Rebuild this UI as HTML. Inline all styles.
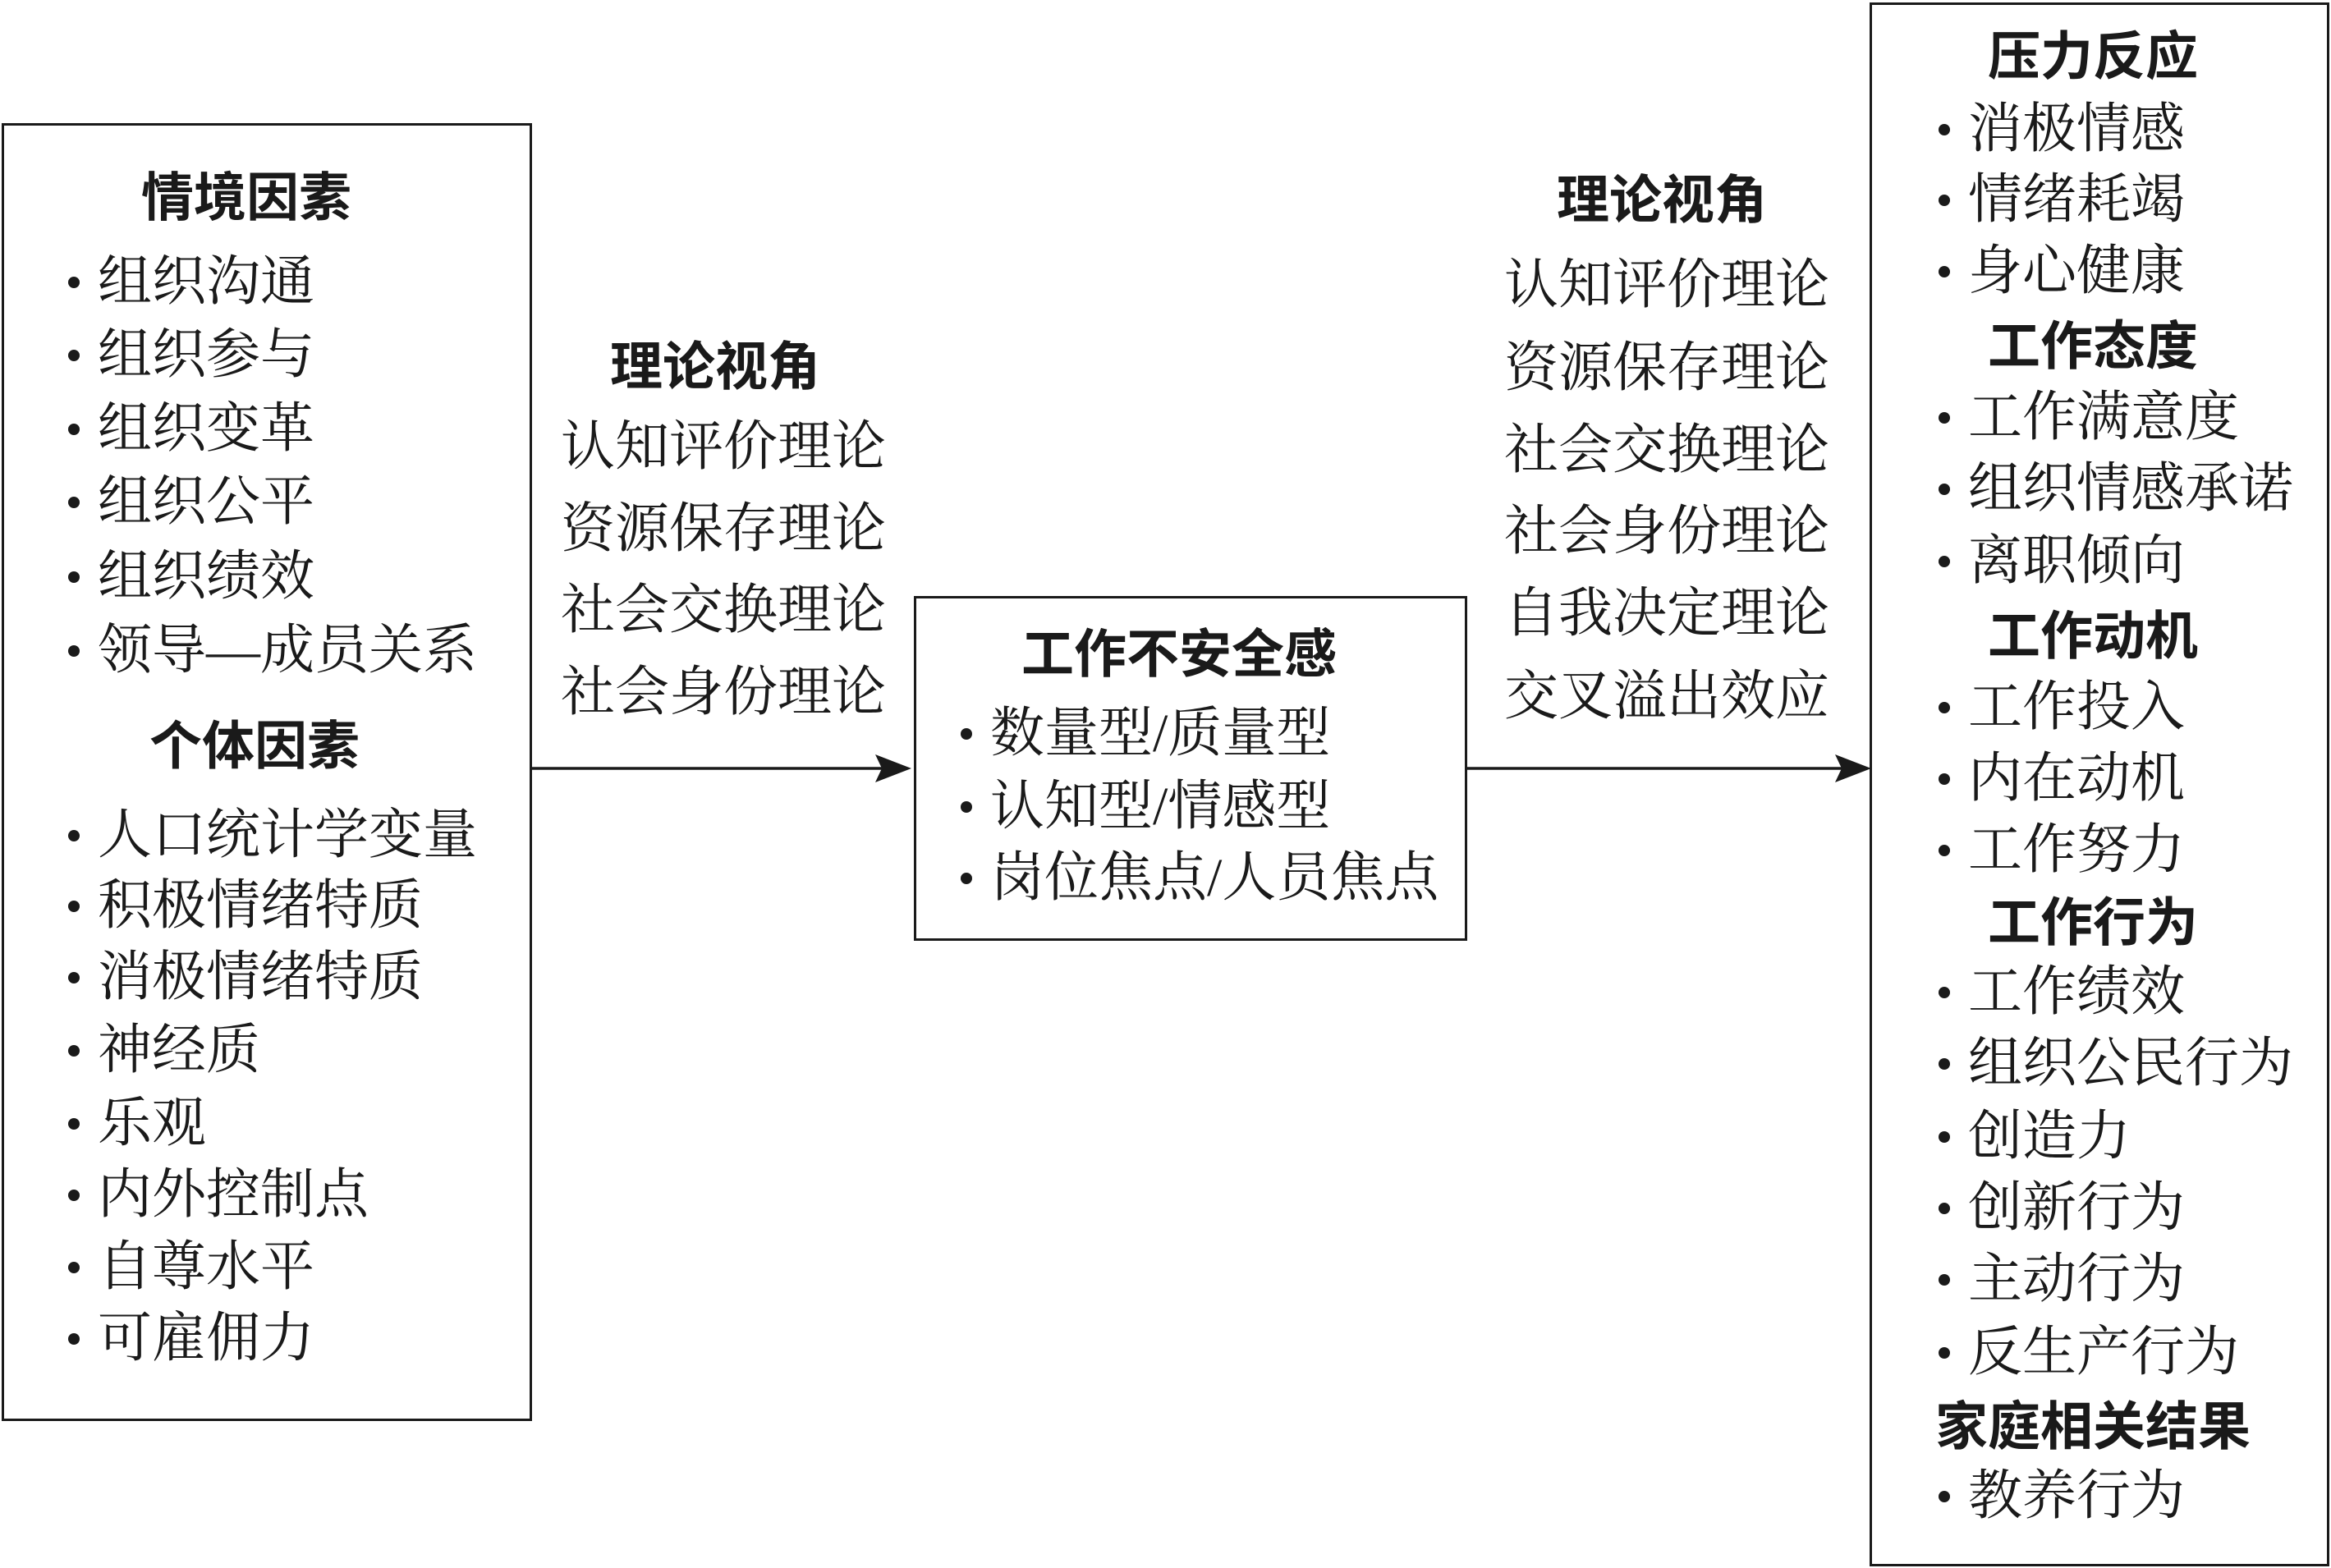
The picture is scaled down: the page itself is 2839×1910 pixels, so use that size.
<!DOCTYPE html>
<html><head><meta charset="utf-8"><style>
body{margin:0;background:#fff;}
#c{position:relative;width:2839px;height:1910px;overflow:hidden;background:#fff;}
.t{position:absolute;font-family:"Liberation Serif","Noto Serif CJK SC",serif;font-size:66px;line-height:72px;color:#1a1a1a;white-space:nowrap;transform:translateY(-50%);}
.h{position:absolute;font-family:"Liberation Sans","Noto Sans CJK SC",sans-serif;font-weight:bold;font-size:64px;line-height:72px;color:#1a1a1a;white-space:nowrap;transform:translate(-50%,-50%);}
.b{position:absolute;width:14px;height:14px;border-radius:50%;background:#1a1a1a;transform:translate(-50%,-50%);}
.box{position:absolute;border:3.5px solid #1a1a1a;box-sizing:border-box;}
</style></head><body><div id="c">
<div class="box" style="left:2px;top:150px;width:646px;height:1581px"></div>
<div class="box" style="left:1113px;top:726px;width:674px;height:420px"></div>
<div class="box" style="left:2277px;top:3px;width:560px;height:1905px"></div>
<svg style="position:absolute;left:0;top:0" width="2839" height="1910">
<line x1="646" y1="936" x2="1075" y2="936" stroke="#1a1a1a" stroke-width="3.5"/>
<polygon points="1110,936 1066,919 1074,936 1066,953" fill="#1a1a1a"/>
<line x1="1785" y1="936" x2="2245" y2="936" stroke="#1a1a1a" stroke-width="3.5"/>
<polygon points="2279,936 2235,919 2243,936 2235,953" fill="#1a1a1a"/>
</svg>

<div class="h" style="left:300px;top:241px">情境因素</div>
<div class="b" style="left:90px;top:344px"></div><div class="t" style="left:119px;top:344px">组织沟通</div>
<div class="b" style="left:90px;top:433px"></div><div class="t" style="left:119px;top:433px">组织参与</div>
<div class="b" style="left:90px;top:523px"></div><div class="t" style="left:119px;top:523px">组织变革</div>
<div class="b" style="left:90px;top:612px"></div><div class="t" style="left:119px;top:612px">组织公平</div>
<div class="b" style="left:90px;top:703px"></div><div class="t" style="left:119px;top:703px">组织绩效</div>
<div class="b" style="left:90px;top:793px"></div><div class="t" style="left:119px;top:793px">领导—成员关系</div>
<div class="h" style="left:310px;top:909px">个体因素</div>
<div class="b" style="left:90px;top:1018px"></div><div class="t" style="left:119px;top:1018px">人口统计学变量</div>
<div class="b" style="left:90px;top:1104px"></div><div class="t" style="left:119px;top:1104px">积极情绪特质</div>
<div class="b" style="left:90px;top:1191px"></div><div class="t" style="left:119px;top:1191px">消极情绪特质</div>
<div class="b" style="left:90px;top:1280px"></div><div class="t" style="left:119px;top:1280px">神经质</div>
<div class="b" style="left:90px;top:1369px"></div><div class="t" style="left:119px;top:1369px">乐观</div>
<div class="b" style="left:90px;top:1456px"></div><div class="t" style="left:119px;top:1456px">内外控制点</div>
<div class="b" style="left:90px;top:1544px"></div><div class="t" style="left:119px;top:1544px">自尊水平</div>
<div class="b" style="left:90px;top:1631px"></div><div class="t" style="left:119px;top:1631px">可雇佣力</div>

<div class="h" style="left:871px;top:447px">理论视角</div>
<div class="t" style="left:683px;top:545px">认知评价理论</div>
<div class="t" style="left:683px;top:645px">资源保存理论</div>
<div class="t" style="left:683px;top:744px">社会交换理论</div>
<div class="t" style="left:683px;top:844px">社会身份理论</div>

<div class="h" style="left:1436px;top:797px">工作不安全感</div>
<div class="b" style="left:1177px;top:894px"></div><div class="t" style="left:1206px;top:894px">数量型/质量型</div>
<div class="b" style="left:1177px;top:983px"></div><div class="t" style="left:1206px;top:983px">认知型/情感型</div>
<div class="b" style="left:1177px;top:1070px"></div><div class="t" style="left:1206px;top:1070px">岗位焦点/人员焦点</div>

<div class="h" style="left:2024px;top:244px">理论视角</div>
<div class="t" style="left:1832px;top:348px">认知评价理论</div>
<div class="t" style="left:1832px;top:449px">资源保存理论</div>
<div class="t" style="left:1832px;top:549px">社会交换理论</div>
<div class="t" style="left:1832px;top:648px">社会身份理论</div>
<div class="t" style="left:1832px;top:748px">自我决定理论</div>
<div class="t" style="left:1832px;top:849px">交叉溢出效应</div>

<div class="h" style="left:2549px;top:69px">压力反应</div>
<div class="b" style="left:2368px;top:158px"></div><div class="t" style="left:2397px;top:158px">消极情感</div>
<div class="b" style="left:2368px;top:244px"></div><div class="t" style="left:2397px;top:244px">情绪耗竭</div>
<div class="b" style="left:2368px;top:331px"></div><div class="t" style="left:2397px;top:331px">身心健康</div>
<div class="h" style="left:2549px;top:422px">工作态度</div>
<div class="b" style="left:2368px;top:509px"></div><div class="t" style="left:2397px;top:509px">工作满意度</div>
<div class="b" style="left:2368px;top:596px"></div><div class="t" style="left:2397px;top:596px">组织情感承诺</div>
<div class="b" style="left:2368px;top:684px"></div><div class="t" style="left:2397px;top:684px">离职倾向</div>
<div class="h" style="left:2549px;top:775px">工作动机</div>
<div class="b" style="left:2368px;top:862px"></div><div class="t" style="left:2397px;top:862px">工作投入</div>
<div class="b" style="left:2368px;top:949px"></div><div class="t" style="left:2397px;top:949px">内在动机</div>
<div class="b" style="left:2368px;top:1036px"></div><div class="t" style="left:2397px;top:1036px">工作努力</div>
<div class="h" style="left:2549px;top:1124px">工作行为</div>
<div class="b" style="left:2368px;top:1209px"></div><div class="t" style="left:2397px;top:1209px">工作绩效</div>
<div class="b" style="left:2368px;top:1296px"></div><div class="t" style="left:2397px;top:1296px">组织公民行为</div>
<div class="b" style="left:2368px;top:1385px"></div><div class="t" style="left:2397px;top:1385px">创造力</div>
<div class="b" style="left:2368px;top:1472px"></div><div class="t" style="left:2397px;top:1472px">创新行为</div>
<div class="b" style="left:2368px;top:1559px"></div><div class="t" style="left:2397px;top:1559px">主动行为</div>
<div class="b" style="left:2368px;top:1648px"></div><div class="t" style="left:2397px;top:1648px">反生产行为</div>
<div class="h" style="left:2549px;top:1738px">家庭相关结果</div>
<div class="b" style="left:2368px;top:1823px"></div><div class="t" style="left:2397px;top:1823px">教养行为</div>
</div></body></html>
